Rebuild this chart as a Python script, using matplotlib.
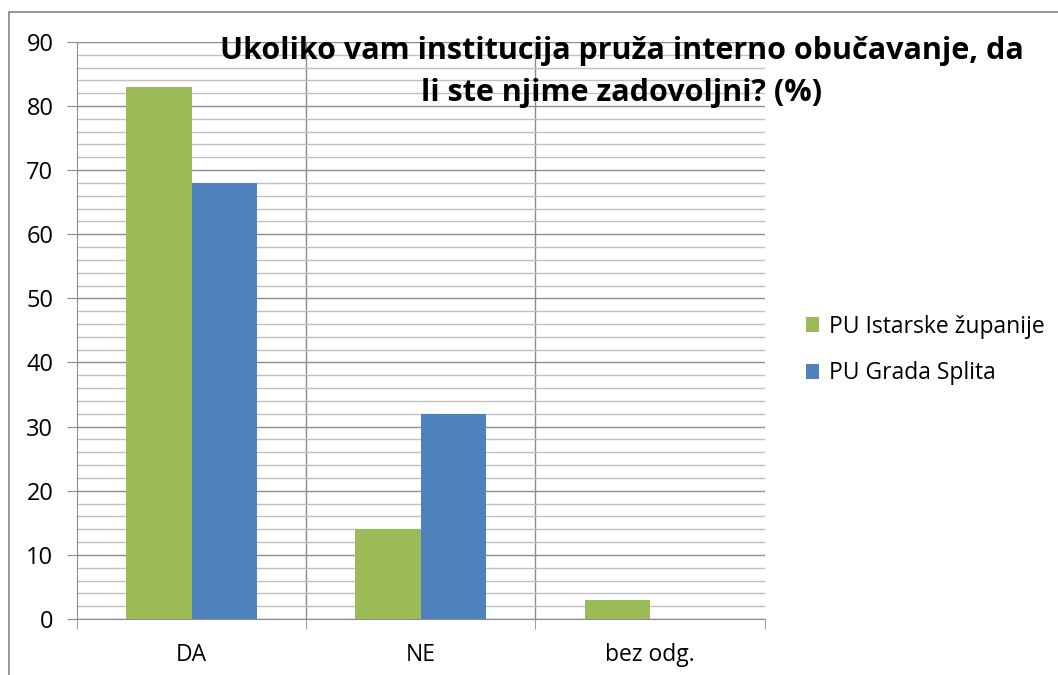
import matplotlib.pyplot as plt
import numpy as np
from matplotlib.patches import Rectangle

# survey answers, in percent
categories = ["DA", "NE", "bez odg."]
istra = [83, 14, 3]
split = [68, 32, 0]
series_names = ["PU Istarske županije", "PU Grada Splita"]
title = "Ukoliko vam institucija pruža interno obučavanje, da\nli ste njime zadovoljni? (%)"

green = "#9bbb59"
blue = "#4f81bd"

plt.rcParams["font.family"] = ["Open Sans", "DejaVu Sans"]

fig = plt.figure(figsize=(10.58, 6.75), dpi=100)
ax = fig.add_axes([0.0728, 0.083, 0.650, 0.855])

# chart frame
fig.patches.append(Rectangle((9 / 1058, -0.01), 1.1, 1 - 12 / 675 + 0.01,
                             transform=fig.transFigure, fill=False,
                             edgecolor="#8c8c8c", linewidth=1.3))

x = np.arange(len(categories))
w = 0.286
ax.bar(x - w / 2, istra, w, color=green, label=series_names[0], zorder=3)
ax.bar(x + w / 2, split, w, color=blue, label=series_names[1], zorder=3)

ax.set_xlim(-0.5, 2.5)
ax.set_ylim(0, 90)
ax.set_yticks(np.arange(0, 91, 10))
ax.set_yticks(np.arange(0, 91, 2), minor=True)
ax.grid(axis="y", which="major", color="#8c8c8c", linewidth=1.0, zorder=0)
ax.grid(axis="y", which="minor", color="#c0c0c0", linewidth=1.0, zorder=0)
for b in [0.5, 1.5]:
    ax.axvline(b, color="#8c8c8c", linewidth=1.0, zorder=1)

ax.set_xticks(x)
ax.set_xticklabels(categories, fontsize=16.5)
ax.set_xticks([-0.5, 0.5, 1.5, 2.5], minor=True)
ax.tick_params(axis="x", which="major", length=0, pad=17)
ax.tick_params(axis="x", which="minor", length=7, color="#8c8c8c")
ax.tick_params(axis="y", which="major", length=7, color="#8c8c8c", labelsize=17, pad=10)
ax.tick_params(axis="y", which="minor", length=0)

for s in ["top", "right"]:
    ax.spines[s].set_visible(False)
ax.spines["left"].set_color("#8c8c8c")
ax.spines["bottom"].set_color("#8c8c8c")

fig.text(622 / 1058, 1 - 36 / 675, title, ha="center", va="top",
         fontsize=22, fontweight="bold", linespacing=1.5)

fig.legend(loc="center left", bbox_to_anchor=(785 / 1058, 1 - 350 / 675),
           frameon=False, fontsize=16.5, handlelength=0.6, handleheight=0.6,
           labelspacing=1.0, handletextpad=0.4)

fig.savefig("out.png", dpi=100)
